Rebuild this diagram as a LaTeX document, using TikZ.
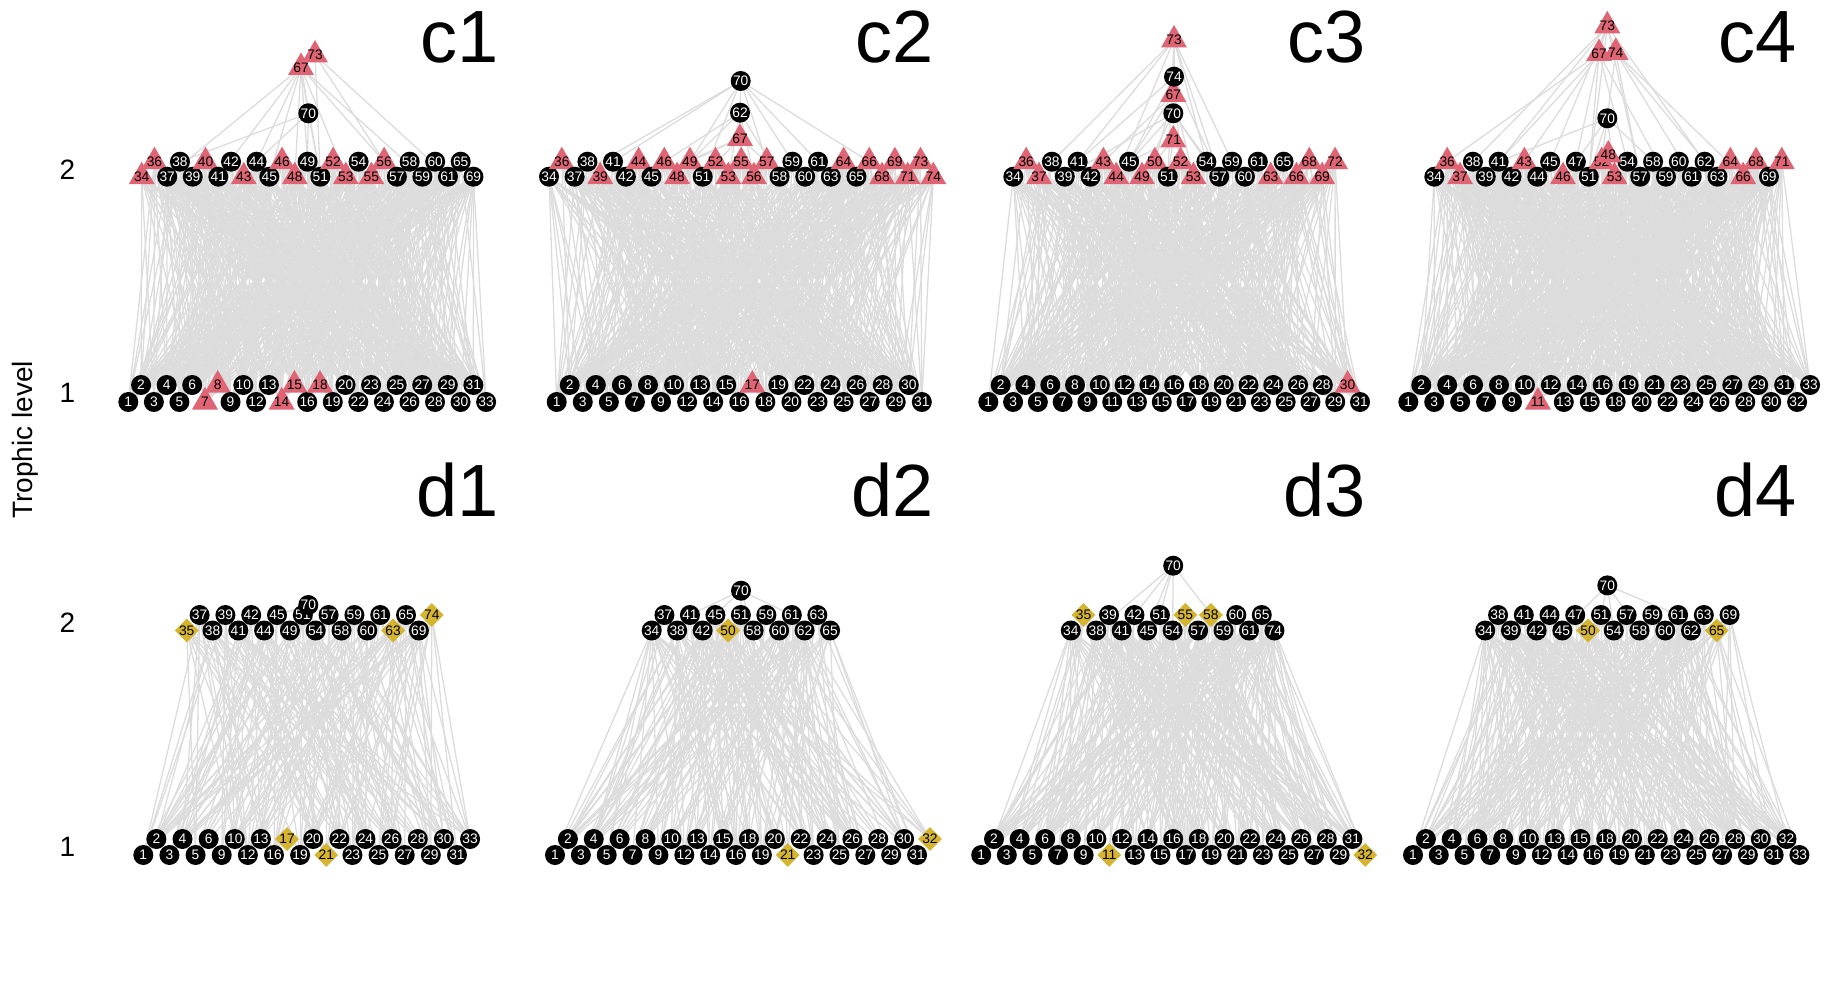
\documentclass[tikz,border=0pt]{standalone}
\usepackage{fontspec}
\setmainfont{Liberation Sans}
\usetikzlibrary{shapes.geometric,backgrounds}
\definecolor{tricol}{RGB}{223,101,117}
\definecolor{diacol}{RGB}{213,181,48}
\definecolor{lnkcol}{RGB}{220,220,220}
\newcommand\zb[1]{\smash{\makebox[0pt]{\raisebox{-0.36em}{#1}}}}
\tikzset{
 nfont/.style={font=\fontsize{13.8}{13.8}\selectfont},
 nc/.style={circle,fill=black,text=white,inner sep=0pt,minimum size=20pt,nfont},
 nt/.style={regular polygon,regular polygon sides=3,fill=tricol,text=black,inner sep=0pt,minimum size=30pt,nfont},
 nd/.style={diamond,fill=diacol,text=black,inner sep=0pt,minimum width=24pt,minimum height=24pt,aspect=1,nfont},
 lnk/.style={draw=lnkcol,line width=1.3pt},
 panlab/.style={font=\fontsize{74}{74}\selectfont,inner sep=0pt,anchor=base east},
 axlab/.style={font=\fontsize{28}{28}\selectfont,inner sep=0pt},
}
\newcommand\placerow[6]{\foreach \nm/\tp [count=\k from 0] in #6 {\pgfmathsetmacro\xx{#2+\k*#3}\ifodd\k\relax\edef\yy{#5}\else\edef\yy{#4}\fi
 \node[n\tp] (#1n\nm) at (\xx,\yy) {\zb{\nm}};}}
\newcommand\edgeset[5]{\foreach \ia/\ta in #2 {\foreach \ib/\tb in #3 {\edef\hh{\the\numexpr(\ia*\ib*7+\ia*\ia*3+\ib*13+#4)-((\ia*\ib*7+\ia*\ia*3+\ib*13+#4)/11)*11\relax}\ifnum\hh<#5\relax\draw[lnk] (#1n\ia.center) -- (#1n\ib.center);\fi}}}
\newcommand\fan[3]{\foreach \ib in {#3} {\draw[lnk] (#1n#2.center) -- (#1n\ib.center);}}
% lists
\def\cAtop{34/t,36/t,37/c,38/c,39/c,40/t,41/c,42/c,43/t,44/c,45/c,46/t,48/t,49/c,51/c,52/t,53/t,54/c,55/t,56/t,57/c,58/c,59/c,60/c,61/c,65/c,69/c}
\def\cAbot{1/c,2/c,3/c,4/c,5/c,6/c,7/t,8/t,9/c,10/c,12/c,13/c,14/t,15/t,16/c,18/t,19/c,20/c,22/c,23/c,24/c,25/c,26/c,27/c,28/c,29/c,30/c,31/c,33/c}
\def\cBtop{34/c,36/t,37/c,38/c,39/t,41/c,42/c,44/t,45/c,46/t,48/t,49/t,51/c,52/t,53/t,55/t,56/t,57/t,58/c,59/c,60/c,61/c,63/c,64/t,65/c,66/t,68/t,69/t,71/t,73/t,74/t}
\def\cBbot{1/c,2/c,3/c,4/c,5/c,6/c,7/c,8/c,9/c,10/c,12/c,13/c,14/c,15/c,16/c,17/t,18/c,19/c,20/c,22/c,23/c,24/c,25/c,26/c,27/c,28/c,29/c,30/c,31/c}
\def\cCtop{34/c,36/t,37/t,38/c,39/c,41/c,42/c,43/t,44/t,45/c,49/t,50/t,51/c,52/t,53/t,54/c,57/c,59/c,60/c,61/c,63/t,65/c,66/t,68/t,69/t,72/t}
\def\cCbot{1/c,2/c,3/c,4/c,5/c,6/c,7/c,8/c,9/c,10/c,11/c,12/c,13/c,14/c,15/c,16/c,17/c,18/c,19/c,20/c,21/c,22/c,23/c,24/c,25/c,26/c,27/c,28/c,29/c,30/t,31/c}
\def\cDtop{34/c,36/t,37/t,38/c,39/c,41/c,42/c,43/t,44/c,45/c,46/t,47/c,51/c,52/t,53/t,54/c,57/c,58/c,59/c,60/c,61/c,62/c,63/c,64/t,66/t,68/t,69/c,71/t}
\def\cDbot{1/c,2/c,3/c,4/c,5/c,6/c,7/c,8/c,9/c,10/c,11/t,12/c,13/c,14/c,15/c,16/c,18/c,19/c,20/c,21/c,22/c,23/c,24/c,25/c,26/c,27/c,28/c,29/c,30/c,31/c,32/c,33/c}
\def\dAtop{35/d,37/c,38/c,39/c,41/c,42/c,44/c,45/c,49/c,51/c,54/c,57/c,58/c,59/c,60/c,61/c,63/d,65/c,69/c,74/d}
\def\dAbot{1/c,2/c,3/c,4/c,5/c,6/c,9/c,10/c,12/c,13/c,16/c,17/d,19/c,20/c,21/d,22/c,23/c,24/c,25/c,26/c,27/c,28/c,29/c,30/c,31/c,33/c}
\def\dBtop{34/c,37/c,38/c,41/c,42/c,45/c,50/d,51/c,58/c,59/c,60/c,61/c,62/c,63/c,65/c}
\def\dBbot{1/c,2/c,3/c,4/c,5/c,6/c,7/c,8/c,9/c,10/c,12/c,13/c,14/c,15/c,16/c,18/c,19/c,20/c,21/d,22/c,23/c,24/c,25/c,26/c,27/c,28/c,29/c,30/c,31/c,32/d}
\def\dCtop{34/c,35/d,38/c,39/c,41/c,42/c,45/c,51/c,54/c,55/d,57/c,58/d,59/c,60/c,61/c,65/c,74/c}
\def\dCbot{1/c,2/c,3/c,4/c,5/c,6/c,7/c,8/c,9/c,10/c,11/d,12/c,13/c,14/c,15/c,16/c,17/c,18/c,19/c,20/c,21/c,22/c,23/c,24/c,25/c,26/c,27/c,28/c,29/c,31/c,32/d}
\def\dDtop{34/c,38/c,39/c,41/c,42/c,44/c,45/c,47/c,50/d,51/c,54/c,57/c,58/c,59/c,60/c,61/c,62/c,63/c,65/d,69/c}
\def\dDbot{1/c,2/c,3/c,4/c,5/c,6/c,7/c,8/c,9/c,10/c,12/c,13/c,14/c,15/c,16/c,18/c,19/c,20/c,21/c,22/c,23/c,24/c,25/c,26/c,27/c,28/c,29/c,30/c,31/c,32/c,33/c}
\begin{document}
\begin{tikzpicture}[x=1pt,y=-1pt]
\useasboundingbox (0,0) rectangle (1825,1003);
% axis labels
\node[axlab] (ya2) at (67.5,170) {2};
\node[axlab] (ya1) at (67.5,393) {1};
\node[axlab] (yb2) at (67.5,623) {2};
\node[axlab] (yb1) at (67.5,847) {1};
\node[axlab,rotate=90] (ylab) at (25.6,440) {Trophic level};
% panel labels
\node[panlab] (lc1) at (499,63) {c1};
\node[panlab] (lc2) at (934,63) {c2};
\node[panlab] (lc3) at (1366,63) {c3};
\node[panlab] (lc4) at (1797,63) {c4};
\node[panlab] (ld1) at (499,516) {d1};
\node[panlab] (ld2) at (934,516) {d2};
\node[panlab] (ld3) at (1366,516) {d3};
\node[panlab] (ld4) at (1797,516) {d4};
% rows
\placerow{cA}{141.7}{12.76}{176.7}{161.7}{\cAtop}
\placerow{cA}{128.3}{12.78}{402}{385}{\cAbot}
\placerow{cB}{549}{12.81}{176.7}{161.7}{\cBtop}
\placerow{cB}{556.7}{13.04}{402}{385}{\cBbot}
\placerow{cC}{1013.3}{12.87}{176.7}{161.7}{\cCtop}
\placerow{cC}{988.3}{12.39}{402}{385}{\cCbot}
\placerow{cD}{1434.3}{12.87}{176.7}{161.7}{\cDtop}
\placerow{cD}{1408.3}{12.96}{402}{385}{\cDbot}
\placerow{dA}{186.7}{12.9}{630.5}{615}{\dAtop}
\placerow{dA}{143.3}{13.07}{855}{839}{\dAbot}
\placerow{dB}{651.7}{12.74}{630.5}{615}{\dBtop}
\placerow{dB}{555}{12.93}{855}{839}{\dBbot}
\placerow{dC}{1070.8}{12.73}{630.5}{615}{\dCtop}
\placerow{dC}{981.2}{12.8}{855}{839}{\dCbot}
\placerow{dD}{1485.2}{12.86}{630.5}{615}{\dDtop}
\placerow{dD}{1413}{12.88}{855}{839}{\dDbot}
% higher nodes
\node[nc] (cAn70) at (308.3,113.3) {\zb{70}};
\node[nt] (cAn67) at (301,67.5) {\zb{67}};
\node[nt] (cAn73) at (315,55) {\zb{73}};
\node[nt] (cBn67) at (740,138.5) {\zb{67}};
\node[nc] (cBn62) at (740,112.7) {\zb{62}};
\node[nc] (cBn70) at (740.7,81) {\zb{70}};
\node[nt] (cCn71) at (1173.3,140) {\zb{71}};
\node[nc] (cCn70) at (1173.3,113.3) {\zb{70}};
\node[nt] (cCn67) at (1173.3,94.5) {\zb{67}};
\node[nc] (cCn74) at (1174,76.7) {\zb{74}};
\node[nt] (cCn73) at (1174,40) {\zb{73}};
\node[nt] (cDn48) at (1608.3,155) {\zb{48}};
\node[nc] (cDn70) at (1607.3,118.3) {\zb{70}};
\node[nt] (cDn67) at (1599,53.5) {\zb{67}};
\node[nt] (cDn74) at (1615.7,52.5) {\zb{74}};
\node[nt] (cDn73) at (1607.3,25.8) {\zb{73}};
\node[nc] (dAn70) at (308.3,605) {\zb{70}};
\node[nc] (dBn70) at (741,590.7) {\zb{70}};
\node[nc] (dCn70) at (1173.2,565.7) {\zb{70}};
\node[nc] (dDn70) at (1607.3,585.4) {\zb{70}};
% links
\begin{pgfonlayer}{background}
\edgeset{cA}{\cAbot}{\cAtop}{3}{2}
\edgeset{cB}{\cBbot}{\cBtop}{5}{2}
\edgeset{cC}{\cCbot}{\cCtop}{7}{2}
\edgeset{cD}{\cDbot}{\cDtop}{2}{2}
\edgeset{dA}{\dAbot}{\dAtop}{4}{0}
\edgeset{dB}{\dBbot}{\dBtop}{6}{0}
\edgeset{dC}{\dCbot}{\dCtop}{1}{0}
\edgeset{dD}{\dDbot}{\dDtop}{8}{0}
\fan{cA}{67}{37,41,44,45,48,49,51,53,56,59,70}
\fan{cA}{73}{51,56,61}
\fan{cA}{70}{38,44,49,51}
\fan{cB}{70}{37,41,49,51,57,59,61,66,62}
\fan{cB}{62}{46,49,53,56,58,67}
\fan{cB}{67}{45,49,51,55,57}
\fan{cC}{73}{38,41,44,51,54,57,59,74}
\fan{cC}{74}{41,45,52,57}
\fan{cC}{67}{43,45,50,53}
\fan{cC}{70}{39,44,49,54,57}
\fan{cC}{71}{45,49,51,53}
\fan{cD}{73}{38,41,45,51,57,62,67,74}
\fan{cD}{67}{36,41,43,47,51,54,59}
\fan{cD}{74}{52,57,61,63,66}
\fan{cD}{70}{41,47,51,53,58}
\fan{dA}{70}{45,49,51,54,57}
\fan{dB}{70}{41,45,51,58,61}
\fan{dC}{70}{38,42,45,51,54,59}
\fan{dD}{70}{45,51,54,58,61}
\end{pgfonlayer}
\end{tikzpicture}
\end{document}
